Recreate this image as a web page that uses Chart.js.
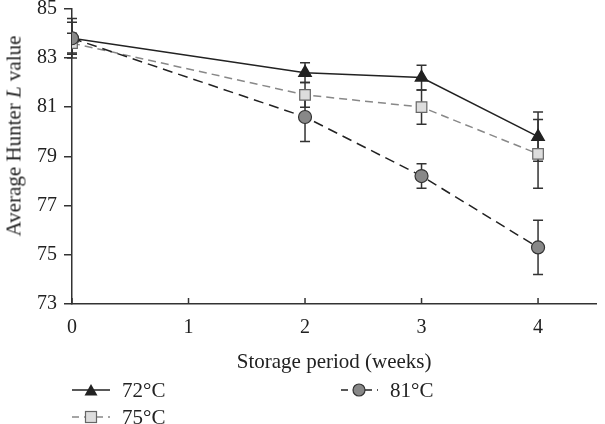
<!DOCTYPE html>
<html>
<head>
<meta charset="utf-8">
<script src="https://cdn.jsdelivr.net/npm/chart.js@4"></script>
<style>
    body { margin: 0; background: #fff; }
    #wrap { position: relative; width: 605px; height: 424px; font-family: "Liberation Serif", serif; color: #222; }
    #ytitle { position: absolute; left: 14px; top: 136px; transform: translate(-50%, -50%) rotate(-90deg); white-space: nowrap; font-size: 21px; }
    .leg { position: absolute; display: flex; align-items: center; font-size: 21px; line-height: 24px; white-space: nowrap; transform: translateY(-50%); }
    .leg svg { margin-right: 12px; }
</style>
</head>
<body>
<div id="wrap">
    <canvas id="chart" width="605" height="424"></canvas>
    <div id="ytitle">Average Hunter <i>L</i> value</div>
    <div class="leg" style="left:72px; top:390px;">
        <svg width="38" height="16"><line x1="0" y1="8" x2="38" y2="8" stroke="#222" stroke-width="1.5"/><polygon points="19,2 25.5,13.5 12.5,13.5" fill="#222"/></svg>72°C
    </div>
    <div class="leg" style="left:340px; top:390px;">
        <svg width="38" height="16"><line x1="0" y1="8" x2="38" y2="8" stroke="#222" stroke-width="1.5" stroke-dasharray="7,5" stroke-dashoffset="-1"/><circle cx="19" cy="8" r="6" fill="#888" stroke="#333" stroke-width="1.2"/></svg>81°C
    </div>
    <div class="leg" style="left:72px; top:417px;">
        <svg width="38" height="16"><line x1="0" y1="8" x2="38" y2="8" stroke="#888" stroke-width="1.5" stroke-dasharray="7,5"/><rect x="13.5" y="2.5" width="11" height="11" fill="#ddd" stroke="#666" stroke-width="1.2"/></svg>75°C
    </div>
</div>
<script>
// data
const weeks = [0, 2, 3, 4];
const xTicks = [0, 1, 2, 3, 4];

const l72 = [83.8, 82.4, 82.2, 79.8];
const err72 = [0.8, 0.4, 0.5, 1.0];
const l75 = [83.6, 81.5, 81.0, 79.1];
const err75 = [0.4, 0.5, 0.7, 1.4];
const l81 = [83.8, 80.6, 78.2, 75.3];
const err81 = [0.65, 1.0, 0.5, 1.1];

const errors = [err72, err75, err81];

const toPoints = (vals) => vals.map((v, i) => ({ x: weeks[i], y: v }));

// error bars drawn under the lines/markers
const errorBars = {
    id: 'errorBars',
    beforeDatasetsDraw(chart) {
        const ctx = chart.ctx;
        const y = chart.scales.y;
        ctx.save();
        ctx.strokeStyle = '#333';
        ctx.lineWidth = 1.5;
        chart.data.datasets.forEach((ds, d) => {
            const meta = chart.getDatasetMeta(d);
            meta.data.forEach((pt, i) => {
                const e = errors[d][i];
                const top = y.getPixelForValue(ds.data[i].y + e);
                const bot = y.getPixelForValue(ds.data[i].y - e);
                ctx.beginPath();
                ctx.moveTo(pt.x, top); ctx.lineTo(pt.x, bot);
                ctx.moveTo(pt.x - 5, top); ctx.lineTo(pt.x + 5, top);
                ctx.moveTo(pt.x - 5, bot); ctx.lineTo(pt.x + 5, bot);
                ctx.stroke();
            });
        });
        ctx.restore();
    }
};

// x ticks point into the plot
const innerTicks = {
    id: 'innerTicks',
    afterDraw(chart) {
        const ctx = chart.ctx;
        const x = chart.scales.x;
        ctx.save();
        ctx.strokeStyle = '#333';
        ctx.lineWidth = 1.5;
        xTicks.forEach(t => {
            const px = x.getPixelForValue(t);
            ctx.beginPath();
            ctx.moveTo(px, x.top);
            ctx.lineTo(px, x.top - 6);
            ctx.stroke();
        });
        ctx.restore();
    }
};

const tickFont = { family: '"Liberation Serif", serif', size: 20 };
const titleFont = { family: '"Liberation Serif", serif', size: 21 };

new Chart('chart', {
    type: 'line',
    data: {
        datasets: [
            {
                label: '72°C', data: toPoints(l72), order: 2,
                borderColor: '#222', borderWidth: 1.5,
                pointStyle: 'triangle', pointRadius: 7,
                pointBackgroundColor: '#222', pointBorderColor: '#222'
            },
            {
                label: '75°C', data: toPoints(l75), order: 1,
                borderColor: '#888', borderWidth: 1.5, borderDash: [8, 5],
                pointStyle: 'rect', pointRadius: 7.5,
                pointBackgroundColor: '#ddd', pointBorderColor: '#666', pointBorderWidth: 1.2
            },
            {
                label: '81°C', data: toPoints(l81), order: 0,
                borderColor: '#222', borderWidth: 1.5, borderDash: [10, 6],
                pointStyle: 'circle', pointRadius: 6.5,
                pointBackgroundColor: '#888', pointBorderColor: '#333', pointBorderWidth: 1.2
            }
        ]
    },
    options: {
        responsive: false,
        animation: false,
        layout: { padding: { top: 7, right: 0, left: 0, bottom: 0 } },
        plugins: { legend: { display: false }, tooltip: { enabled: false } },
        scales: {
            x: {
                type: 'linear', min: 0, max: 4.5,
                afterBuildTicks: (s) => { s.ticks = xTicks.map(v => ({ value: v })); },
                afterFit: (s) => { s.height = 120; s.paddingLeft = 0; s.paddingRight = 0; },
                grid: { drawOnChartArea: false, drawTicks: false },
                border: { color: '#333', width: 1.5 },
                ticks: { color: '#222', font: tickFont, padding: 12 },
                title: { display: true, text: 'Storage period (weeks)', color: '#222', font: titleFont, padding: { top: 4, bottom: 49 } }
            },
            y: {
                min: 73, max: 85,
                ticks: { stepSize: 2, color: '#222', font: tickFont, padding: 7 },
                afterFit: (s) => { s.width = 72; s.paddingTop = 0; s.paddingBottom = 0; },
                grid: { drawOnChartArea: false, tickLength: 8, color: '#333', lineWidth: 1.5 },
                border: { color: '#333', width: 1.5 }
            }
        }
    },
    plugins: [errorBars, innerTicks]
});
</script>
</body>
</html>
